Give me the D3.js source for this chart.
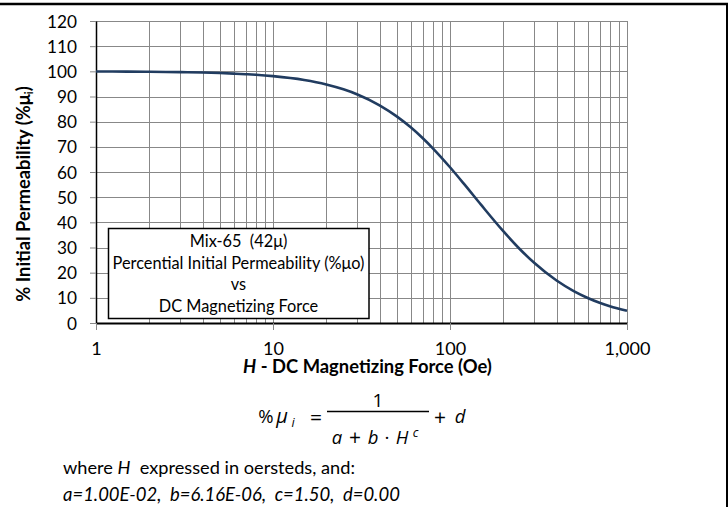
<!DOCTYPE html>
<html>
<head>
<meta charset="utf-8">
<script src="https://cdn.jsdelivr.net/npm/d3@7"></script>
<style>
  body { margin: 0; background: #fff; }
  svg { display: block; }
  text { font-family: Lato, "Open Sans", sans-serif; fill: #000; }
</style>
</head>
<body>
<svg id="chart" width="728" height="507"></svg>
<script>
// DC magnetizing force H (Oe) and % of initial permeability
const fieldOe = [1, 1.5, 2, 3, 4, 5, 6, 7, 8, 10, 15, 20, 25, 30, 40, 50, 60, 70, 80,
  100, 120, 150, 200, 250, 300, 400, 500, 600, 700, 800, 1000];
const permeabilityPct = [99.94, 99.89, 99.83, 99.68, 99.51, 99.32, 99.10, 98.87, 98.63,
  98.09, 96.55, 94.78, 92.85, 90.81, 86.52, 82.11, 77.74, 73.49, 69.41,
  61.88, 55.26, 46.91, 36.47, 29.11, 23.81, 16.87, 12.68, 9.95, 8.06, 6.69, 4.88];

const yTickValues = [0, 10, 20, 30, 40, 50, 60, 70, 80, 90, 100, 110, 120];
const xTickValues = [1, 10, 100, 1000];
const xTickLabels = ["1", "10", "100", "1,000"];
const legendLines = ["Mix-65  (42\u03bc)", "Percential Initial Permeability (%\u03bco)", "vs", "DC Magnetizing Force"];
const fitParams = ["a=1.00E-02,", "b=6.16E-06,", "c=1.50,", "d=0.00"];

const svg = d3.select("#chart");
const plot = { left: 96, right: 627, top: 21, bottom: 323 };

const x = d3.scaleLog().domain([1, 1000]).range([plot.left, plot.right]);
const y = d3.scaleLinear().domain([0, 120]).range([plot.bottom, plot.top]);

// scale a text's font size so that it spans the given width
function sizeToWidth(sel, width) {
  const fs = parseFloat(sel.attr("font-size"));
  const w = sel.node().getComputedTextLength();
  const nfs = fs * width / w;
  sel.attr("font-size", nfs);
  return nfs;
}

// frame lines along top and right
svg.append("line").attr("x1", 0).attr("x2", 728).attr("y1", 4).attr("y2", 4)
  .attr("stroke", "#000").attr("stroke-width", 2.5);
svg.append("line").attr("x1", 727).attr("x2", 727).attr("y1", 3).attr("y2", 507)
  .attr("stroke", "#000").attr("stroke-width", 2);

// grid
const grid = svg.append("g").attr("shape-rendering", "crispEdges")
  .attr("stroke", "#888").attr("stroke-width", 1);
grid.selectAll("line.v").data(x.ticks()).join("line")
  .attr("x1", d => Math.round(x(d)) + 0.5).attr("x2", d => Math.round(x(d)) + 0.5)
  .attr("y1", plot.top).attr("y2", plot.bottom);
grid.selectAll("line.h").data(yTickValues).join("line")
  .attr("x1", plot.left).attr("x2", plot.right)
  .attr("y1", d => Math.round(y(d)) + 0.5).attr("y2", d => Math.round(y(d)) + 0.5);

// axes
const yAxis = svg.append("g").attr("transform", `translate(${plot.left},0)`)
  .call(d3.axisLeft(y).tickValues(yTickValues).tickSize(6).tickSizeOuter(0).tickPadding(13)
    .tickFormat(d3.format("d")));
yAxis.selectAll("text").attr("font-size", 16).attr("font-family", "Lato, sans-serif").attr("dy", "0.35em");
{
  const top = yAxis.selectAll("text").filter(d => d === 120);
  const fs = sizeToWidth(top, 30);
  yAxis.selectAll("text").attr("font-size", fs);
}
yAxis.selectAll(".tick line").attr("stroke", "#888");
yAxis.select(".domain").attr("stroke", "#000").attr("stroke-width", 1.5);

const xAxis = svg.append("g").attr("transform", `translate(0,${plot.bottom})`)
  .call(d3.axisBottom(x).tickValues(xTickValues).tickSize(7).tickSizeOuter(0)
    .tickFormat((d, i) => xTickLabels[i]));
xAxis.selectAll("text").attr("font-size", 16).attr("font-family", "Lato, sans-serif")
  .attr("y", 32).attr("dy", null);
{
  const last = xAxis.selectAll("text").filter(d => d === 1000);
  const fs = sizeToWidth(last, 46);
  xAxis.selectAll("text").attr("font-size", fs);
}
xAxis.selectAll(".tick line").attr("stroke", "#888");
xAxis.select(".domain").attr("stroke", "#000").attr("stroke-width", 2);

// curve
const line = d3.line()
  .x((d, i) => x(fieldOe[i]))
  .y(d => y(d))
  .curve(d3.curveMonotoneX);
svg.append("path").datum(permeabilityPct)
  .attr("d", line).attr("fill", "none")
  .attr("stroke", "#213c60").attr("stroke-width", 2.6);

// legend box
const lg = svg.append("g");
lg.append("rect").attr("x", 108.5).attr("y", 228.5).attr("width", 260.5).attr("height", 90)
  .attr("fill", "#fff").attr("stroke", "#000").attr("stroke-width", 1.5);
const lgText = lg.selectAll("text").data(legendLines).join("text")
  .attr("x", 238.5).attr("y", (d, i) => 247 + i * 21.5)
  .attr("text-anchor", "middle").attr("font-size", 15)
  .attr("xml:space", "preserve").style("white-space", "pre").text(d => d);
{
  const fs = sizeToWidth(lgText.filter((d, i) => i === 1), 252);
  lgText.attr("font-size", fs);
}

// axis titles
const yt = svg.append("text").attr("transform", "translate(30,194) rotate(-90)")
  .attr("text-anchor", "middle").attr("font-weight", "bold").attr("font-size", 16);
yt.append("tspan").text("% Initial Permeability (%\u03bc");
yt.append("tspan").attr("font-size", 11).attr("dy", 3).text("i");
yt.append("tspan").attr("dy", -3).text(")");
sizeToWidth(yt, 216);

const xt = svg.append("text").attr("x", 367.5).attr("y", 373)
  .attr("text-anchor", "middle").attr("font-weight", "bold").attr("font-size", 16);
xt.append("tspan").attr("font-style", "italic").text("H");
xt.append("tspan").text(" - DC Magnetizing Force (Oe)");
sizeToWidth(xt, 249);

// formula  %μi = 1 / (a + b·H^c) + d
const fm = svg.append("g");
const fs = 18.5;
const ff = "'Open Sans', sans-serif";
const put = (tx, ty, str, opts = {}) => fm.append("text").attr("x", tx).attr("y", ty)
  .attr("font-size", opts.size || fs).attr("font-style", opts.italic ? "italic" : null)
  .attr("text-anchor", "middle").style("font-family", ff).text(str);
put(266, 423, "%");
put(282, 423, "\u03bc", { italic: true, size: 20 });
put(293, 427, "i", { italic: true, size: 12.5 });
put(316, 425, "=", { size: 21 });
fm.append("line").attr("x1", 327).attr("x2", 429).attr("y1", 411.5).attr("y2", 411.5)
  .attr("stroke", "#000").attr("stroke-width", 1.3);
put(378, 407, "1", { size: 19 });
put(337, 444, "a", { italic: true });
put(355, 445, "+", { size: 21 });
put(373, 444, "b", { italic: true });
put(387, 444, "\u00b7", { size: 19 });
put(402, 444, "H", { italic: true });
put(415.5, 437, "c", { italic: true, size: 12.5 });
put(440, 425, "+", { size: 21 });
put(460, 423, "d", { italic: true });

// notes
const n1 = svg.append("text").attr("x", 63).attr("y", 474).attr("font-size", 15)
  .attr("xml:space", "preserve").style("white-space", "pre");
n1.append("tspan").text("where ");
n1.append("tspan").attr("font-style", "italic").text("H");
n1.append("tspan").text("  expressed in oersteds, and:");
sizeToWidth(n1, 292);
const n2 = svg.append("text").attr("x", 63).attr("y", 501).attr("font-size", 15).attr("font-style", "italic")
  .attr("xml:space", "preserve").style("white-space", "pre")
  .text(fitParams.join("  "));
sizeToWidth(n2, 337);
</script>
</body>
</html>
